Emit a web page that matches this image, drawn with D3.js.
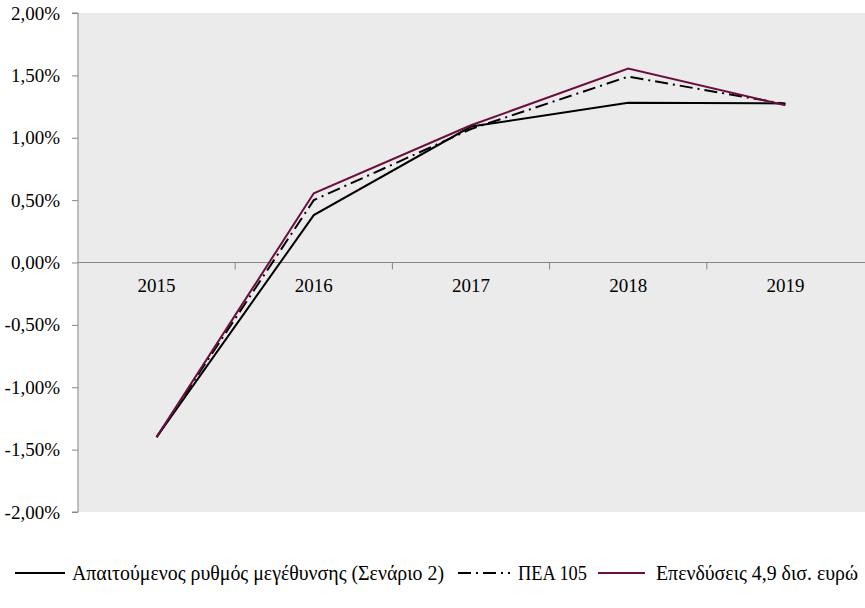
<!DOCTYPE html>
<html><head><meta charset="utf-8">
<script src="https://cdn.jsdelivr.net/npm/d3@7"></script>
<style>body{margin:0;background:#fff}svg{display:block}</style>
</head><body><svg id="c" width="865" height="608"></svg>
<script>
const years = ["2015","2016","2017","2018","2019"];
const required = [-1.40, 0.38, 1.09, 1.28, 1.275];
const pea105 = [-1.40, 0.50, 1.07, 1.49, 1.27];
const invest = [-1.40, 0.555, 1.10, 1.555, 1.26];
const yTicks = [2, 1.5, 1, 0.5, 0, -0.5, -1, -1.5, -2];
const seriesNames = ["Απαιτούμενος ρυθμός μεγέθυνσης (Σενάριο 2)", "ΠΕΑ 105", "Επενδύσεις 4,9 δισ. ευρώ"];

const svg = d3.select("#c");
const pLeft = 78, pRight = 864, pTop = 13, pBottom = 512;
const x = d3.scaleBand().domain(years).range([pLeft, pRight]).padding(0);
const y = d3.scaleLinear().domain([-2, 2]).range([pBottom, pTop]);
const font = "'Liberation Serif', serif";

svg.append("rect").attr("x", pLeft).attr("y", pTop).attr("width", pRight - pLeft + 1).attr("height", pBottom - pTop).attr("fill", "#EBEBEB");

// y axis
const ya = svg.append("g").attr("transform", `translate(${pLeft},0)`)
  .call(d3.axisLeft(y).tickValues(yTicks).tickSize(6).tickPadding(12)
    .tickFormat(d => d.toFixed(2).replace(".", ",") + "%"));
ya.selectAll("path,line").attr("stroke", "#868686");
ya.select(".domain").attr("d", `M-6,${y(2)}H0V${y(-2)}H-6`);
ya.selectAll("text").attr("font-family", font).attr("font-size", 19).attr("fill", "#000");

// x axis at zero
const xa = svg.append("g").attr("transform", `translate(0,${y(0)})`);
xa.append("line").attr("x1", pLeft).attr("x2", pRight + 1).attr("stroke", "#868686");
const bounds = years.slice(1).map(d => x(d));
xa.selectAll("line.t").data(bounds).join("line").attr("class", "t")
  .attr("x1", d => d).attr("x2", d => d).attr("y1", 0).attr("y2", 7).attr("stroke", "#868686");
xa.selectAll("text").data(years).join("text")
  .attr("x", d => x(d) + x.bandwidth() / 2).attr("y", 29)
  .attr("text-anchor", "middle").attr("font-family", font).attr("font-size", 19).text(d => d);

const line = d3.line().x((d, i) => x(years[i]) + x.bandwidth() / 2).y(d => y(d));
const styles = [
  {data: required, color: "#000", dash: null},
  {data: pea105, color: "#000", dash: "13,5,2,5"},
  {data: invest, color: "#6A0F40", dash: null}
];
styles.forEach(s => {
  svg.append("path").attr("d", line(s.data)).attr("fill", "none")
    .attr("stroke", s.color).attr("stroke-width", 2).attr("stroke-dasharray", s.dash);
});

// legend
const ly = 573;
const leg = [
  {x1: 15, x2: 65, tx: 72, tw: 372},
  {x1: 458, x2: 510, tx: 518, tw: 69},
  {x1: 598, x2: 645, tx: 656, tw: 202}
];
leg.forEach((l, i) => {
  svg.append("line").attr("x1", l.x1).attr("x2", l.x2).attr("y1", ly).attr("y2", ly)
    .attr("stroke", styles[i].color).attr("stroke-width", 2).attr("stroke-dasharray", styles[i].dash);
  svg.append("text").attr("x", l.tx).attr("y", ly).attr("dy", "0.35em")
    .attr("font-family", font).attr("font-size", 20)
    .attr("textLength", l.tw).attr("lengthAdjust", "spacingAndGlyphs").text(seriesNames[i]);
});
</script></body></html>
